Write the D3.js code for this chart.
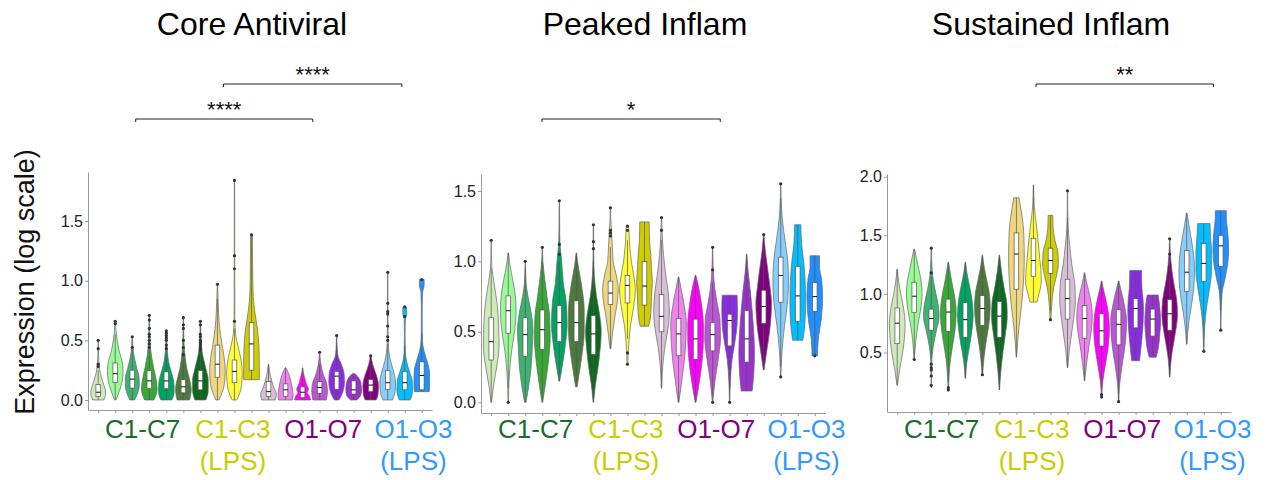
<!DOCTYPE html>
<html lang="en">
<head>
<meta charset="utf-8">
<title>Expression violins</title>
<script src="https://d3js.org/d3.v7.min.js"></script>
<style>
  body { margin: 0; background: #fff; }
  svg { display: block; font-family: "Liberation Sans", Arial, sans-serif; }
</style>
</head>
<body>
<div id="container"></div>
<script>
// ---- data ----
const categories = ["C1","C2","C3","C4","C5","C6","C7","C1 LPS","C2 LPS","C3 LPS",
                    "O1","O2","O3","O4","O5","O6","O7","O1 LPS","O2 LPS","O3 LPS"];
const groups = [
    {label: ["C1-C7"], first: 0, last: 6},
    {label: ["C1-C3", "(LPS)"], first: 7, last: 9},
    {label: ["O1-O7"], first: 10, last: 16},
    {label: ["O1-O3", "(LPS)"], first: 17, last: 19}
];
const panelTitles = ["Core Antiviral", "Peaked Inflam", "Sustained Inflam"];
const yLabel = "Expression (log scale)";

const coreTicks = [0, 0.5, 1.0, 1.5];
const peakTicks = [0, 0.5, 1.0, 1.5];
const sustTicks = [0.5, 1.0, 1.5, 2.0];

// violin outlines: [value, relative half width]
const coreShapes = [
    [[0,0.7],[0.06,0.95],[0.12,0.75],[0.19,0.4],[0.25,0.2],[0.31,0.1],[0.38,0.05],[0.44,0.03],[0.5,0.02]],
    [[0,0.1],[0.08,0.55],[0.16,0.9],[0.25,1.0],[0.33,0.85],[0.41,0.5],[0.5,0.25],[0.58,0.1],[0.66,0.04]],
    [[0,0.3],[0.07,0.75],[0.13,0.9],[0.2,0.85],[0.26,0.6],[0.33,0.35],[0.4,0.15],[0.46,0.07],[0.53,0.03]],
    [[0,0.6],[0.09,1.0],[0.18,0.85],[0.27,0.55],[0.36,0.3],[0.44,0.15],[0.53,0.08],[0.62,0.05],[0.71,0.03]],
    [[0,0.7],[0.07,1.0],[0.15,0.95],[0.22,0.7],[0.29,0.4],[0.36,0.2],[0.44,0.1],[0.51,0.05],[0.58,0.03]],
    [[0,0.8],[0.09,1.0],[0.17,0.8],[0.26,0.45],[0.35,0.25],[0.43,0.12],[0.52,0.06],[0.6,0.04],[0.69,0.02]],
    [[0,0.7],[0.08,1.0],[0.17,1.0],[0.25,0.75],[0.33,0.45],[0.41,0.2],[0.5,0.1],[0.58,0.05],[0.66,0.03]],
    [[0,0.2],[0.12,0.85],[0.24,1.0],[0.36,0.85],[0.48,0.55],[0.6,0.3],[0.73,0.15],[0.85,0.08],[0.97,0.02]],
    [[0,0.3],[0.1,0.85],[0.22,1.0],[0.35,0.8],[0.45,0.45],[0.55,0.15],[0.7,0.05],[1.2,0.03],[1.84,0.02]],
    [[0.17,1.0],[0.3,1.0],[0.45,0.95],[0.6,0.75],[0.75,0.4],[0.9,0.2],[1.1,0.15],[1.3,0.12],[1.39,0.12]],
    [[0,0.85],[0.05,1.0],[0.1,0.7],[0.15,0.45],[0.2,0.25],[0.25,0.12],[0.3,0.02]],
    [[0,0.9],[0.05,0.95],[0.1,0.85],[0.15,0.7],[0.2,0.5],[0.25,0.2],[0.27,0.05]],
    [[0,1.0],[0.03,0.9],[0.06,0.6],[0.09,0.75],[0.13,0.5],[0.18,0.3],[0.23,0.1],[0.27,0.02]],
    [[0,0.85],[0.07,1.0],[0.14,0.9],[0.2,0.55],[0.27,0.25],[0.33,0.1],[0.4,0.02]],
    [[0,0.3],[0.07,0.8],[0.15,1.0],[0.22,0.95],[0.3,0.6],[0.36,0.2],[0.42,0.08],[0.48,0.05],[0.54,0.03]],
    [[0,0.4],[0.04,0.9],[0.08,1.0],[0.13,0.95],[0.18,0.7],[0.22,0.2]],
    [[0,0.7],[0.05,0.95],[0.12,1.0],[0.18,0.85],[0.24,0.55],[0.3,0.25],[0.37,0.05]],
    [[0,0.6],[0.07,0.95],[0.15,1.0],[0.25,0.7],[0.33,0.35],[0.42,0.12],[0.55,0.05],[0.8,0.03],[1.07,0.02]],
    [[0,0.7],[0.08,1.0],[0.16,0.95],[0.24,0.6],[0.32,0.25],[0.4,0.08],[0.55,0.04],[0.68,0.08],[0.72,0.25],[0.76,0.25],[0.78,0.2]],
    [[0.07,0.95],[0.15,1.0],[0.25,0.95],[0.33,0.65],[0.42,0.25],[0.5,0.08],[0.7,0.05],[0.9,0.1],[0.96,0.3],[1.01,0.3]]
];
// [whisker low, q1, median, q3, whisker high]
const coreStats = [
    [0,0.03,0.065,0.13,0.25],[0,0.145,0.22,0.31,0.55],[0,0.10,0.175,0.25,0.42],[0,0.095,0.16,0.245,0.42],
    [0,0.095,0.16,0.235,0.41],[0,0.06,0.11,0.17,0.33],[0,0.085,0.16,0.245,0.40],[0,0.19,0.30,0.46,0.85],
    [0,0.145,0.24,0.335,0.6],[0.17,0.25,0.47,0.65,1.38],[0,0.03,0.07,0.155,0.30],[0,0.03,0.085,0.135,0.27],
    [0,0.02,0.065,0.11,0.27],[0,0.055,0.105,0.155,0.30],[0,0.09,0.20,0.24,0.46],[0,0.05,0.085,0.16,0.22],
    [0,0.07,0.125,0.17,0.30],[0,0.09,0.145,0.245,0.47],[0,0.085,0.145,0.24,0.46],[0.07,0.085,0.205,0.32,0.55]
];
const coreOutliers = [
    [0.28,0.30,0.43,0.50],[0.64,0.66],[0.44,0.53],[0.44,0.47,0.50,0.53,0.55,0.60,0.67,0.71],
    [0.43,0.46,0.50,0.52,0.54,0.56,0.58],[0.38,0.44,0.50,0.60,0.63,0.69],[0.42,0.44,0.46,0.48,0.50,0.53,0.55,0.63,0.66],[0.97],
    [0.66,1.10,1.21,1.84],[1.385],[],[],
    [],[0.40],[0.54],[],
    [0.37],[0.50,0.53,0.62,0.72,0.74,0.81,1.07],[0.70,0.78],[1.01]
];

const peakShapes = [
    [[0,0.05],[0.12,0.3],[0.25,0.7],[0.4,1.0],[0.55,0.95],[0.7,0.75],[0.85,0.35],[0.95,0.1],[1.05,0.03],[1.15,0.02]],
    [[0,0.03],[0.2,0.15],[0.35,0.4],[0.5,0.8],[0.65,1.0],[0.8,0.8],[0.92,0.4],[1.0,0.15],[1.06,0.03]],
    [[0,0.1],[0.1,0.4],[0.25,0.75],[0.4,0.9],[0.5,1.0],[0.62,0.8],[0.75,0.35],[0.85,0.1],[1.0,0.02]],
    [[0,0.05],[0.15,0.45],[0.3,0.8],[0.45,1.0],[0.6,0.95],[0.75,0.6],[0.88,0.3],[1.0,0.08],[1.1,0.02]],
    [[0.15,0.05],[0.25,0.35],[0.4,0.75],[0.55,1.0],[0.7,0.9],[0.85,0.5],[1.0,0.3],[1.1,0.12],[1.2,0.05],[1.43,0.02]],
    [[0.11,0.1],[0.2,0.35],[0.35,0.75],[0.5,1.0],[0.65,1.0],[0.8,0.75],[0.9,0.45],[1.0,0.15],[1.06,0.03]],
    [[0,0.03],[0.12,0.25],[0.25,0.6],[0.4,0.9],[0.5,1.0],[0.62,0.8],[0.75,0.4],[0.9,0.12],[1.05,0.04],[1.26,0.02]],
    [[0.38,0.05],[0.5,0.3],[0.62,0.6],[0.72,0.9],[0.8,1.0],[0.9,0.75],[1.0,0.35],[1.1,0.25],[1.2,0.15],[1.3,0.05],[1.39,0.02]],
    [[0.27,0.05],[0.4,0.15],[0.55,0.4],[0.68,0.8],[0.8,1.0],[0.9,0.8],[1.0,0.5],[1.1,0.3],[1.2,0.2],[1.25,0.15]],
    [[0.54,0.55],[0.62,0.8],[0.75,0.9],[0.85,1.0],[0.95,0.9],[1.05,0.8],[1.15,0.65],[1.28,0.6]],
    [[0.1,0.03],[0.25,0.15],[0.4,0.45],[0.55,0.9],[0.65,1.0],[0.78,0.85],[0.9,0.55],[1.05,0.25],[1.2,0.08],[1.31,0.02]],
    [[0,0.05],[0.15,0.4],[0.3,0.75],[0.45,0.95],[0.55,1.0],[0.68,0.75],[0.8,0.35],[0.89,0.03]],
    [[0,0.05],[0.15,0.5],[0.3,0.85],[0.45,1.0],[0.55,1.0],[0.68,0.8],[0.8,0.45],[0.9,0.05]],
    [[0,0.03],[0.15,0.3],[0.3,0.7],[0.45,1.0],[0.58,0.95],[0.7,0.6],[0.8,0.3],[0.95,0.08],[1.1,0.02]],
    [[0,0.03],[0.15,0.1],[0.3,0.3],[0.42,0.65],[0.55,0.95],[0.65,1.0],[0.76,0.95]],
    [[0.08,0.7],[0.2,0.9],[0.35,1.0],[0.5,0.9],[0.65,0.7],[0.8,0.45],[0.92,0.2],[1.05,0.03]],
    [[0.23,0.05],[0.35,0.35],[0.5,0.75],[0.62,0.95],[0.7,1.0],[0.82,0.8],[0.95,0.5],[1.08,0.2],[1.19,0.03]],
    [[0.18,0.02],[0.35,0.15],[0.55,0.5],[0.7,0.85],[0.85,1.0],[1.0,0.9],[1.15,0.55],[1.3,0.2],[1.45,0.05],[1.55,0.02]],
    [[0.44,0.65],[0.55,0.9],[0.7,1.0],[0.85,0.95],[1.0,0.75],[1.12,0.5],[1.26,0.4]],
    [[0.33,0.35],[0.45,0.45],[0.6,0.85],[0.75,1.0],[0.88,0.85],[0.96,0.6],[1.04,0.6]]
];
const peakStats = [
    [0,0.30,0.43,0.60,0.95],[0.1,0.49,0.65,0.755,1.06],[0,0.325,0.48,0.60,0.95],[0,0.375,0.515,0.655,1.0],
    [0.15,0.43,0.565,0.685,1.0],[0.11,0.43,0.565,0.72,1.06],[0,0.34,0.485,0.615,1.0],[0.38,0.695,0.775,0.86,1.1],
    [0.45,0.705,0.83,0.9,1.15],[0.54,0.69,0.825,1.0,1.28],[0.1,0.5,0.61,0.765,1.15],[0,0.33,0.485,0.595,0.89],
    [0,0.305,0.45,0.59,0.9],[0.05,0.365,0.48,0.565,0.85],[0.1,0.4,0.58,0.625,0.76],[0.08,0.285,0.45,0.65,1.05],
    [0.23,0.56,0.68,0.795,1.1],[0.25,0.71,0.9,1.03,1.45],[0.44,0.575,0.755,0.965,1.26],[0.33,0.645,0.75,0.85,1.04]
];
const peakOutliers = [
    [1.15],[0],[1.0],[1.1],
    [1.05,1.12,1.43],[],[1.09,1.14,1.26],[1.18,1.2,1.22,1.38],
    [0.27,0.35,1.22,1.25],[],[1.22,1.31],[],
    [],[0,0.94,1.1],[0],[],
    [1.19],[0.18,1.55],[],[0.33]
];

const sustShapes = [
    [[0.22,0.03],[0.35,0.3],[0.5,0.7],[0.65,0.95],[0.75,1.0],[0.88,0.8],[1.0,0.45],[1.1,0.2],[1.21,0.03]],
    [[0.44,0.03],[0.6,0.2],[0.75,0.5],[0.88,0.85],[1.0,1.0],[1.12,0.85],[1.22,0.55],[1.3,0.3],[1.38,0.05]],
    [[0.2,0.02],[0.4,0.05],[0.55,0.25],[0.7,0.7],[0.8,1.0],[0.9,0.9],[1.0,0.6],[1.1,0.3],[1.2,0.12],[1.39,0.02]],
    [[0.18,0.02],[0.3,0.1],[0.45,0.3],[0.6,0.65],[0.75,0.95],[0.85,1.0],[0.98,0.8],[1.1,0.45],[1.2,0.2],[1.27,0.03]],
    [[0.28,0.03],[0.42,0.2],[0.58,0.6],[0.72,0.9],[0.82,1.0],[0.95,0.85],[1.08,0.5],[1.18,0.2],[1.27,0.03]],
    [[0.3,0.03],[0.45,0.2],[0.6,0.5],[0.75,0.85],[0.88,1.0],[1.0,0.9],[1.12,0.55],[1.22,0.25],[1.33,0.03]],
    [[0.18,0.02],[0.35,0.2],[0.5,0.45],[0.65,0.75],[0.8,1.0],[0.92,0.95],[1.05,0.6],[1.2,0.25],[1.33,0.03]],
    [[0.46,0.03],[0.7,0.3],[0.9,0.65],[1.1,0.9],[1.3,1.0],[1.5,0.95],[1.65,0.75],[1.75,0.5],[1.82,0.35]],
    [[0.93,0.45],[1.0,0.7],[1.1,1.0],[1.2,0.95],[1.3,0.8],[1.45,0.6],[1.6,0.35],[1.75,0.1],[1.93,0.02]],
    [[0.78,0.05],[0.9,0.15],[1.05,0.4],[1.15,0.75],[1.25,1.0],[1.35,0.95],[1.45,0.6],[1.55,0.35],[1.67,0.3]],
    [[0.37,0.03],[0.5,0.2],[0.65,0.5],[0.8,0.8],[0.95,1.0],[1.1,0.9],[1.25,0.55],[1.4,0.3],[1.55,0.1],[1.7,0.04],[1.88,0.02]],
    [[0.26,0.03],[0.4,0.25],[0.55,0.55],[0.68,0.85],[0.8,1.0],[0.92,0.85],[1.02,0.55],[1.1,0.25],[1.18,0.03]],
    [[0.11,0.02],[0.25,0.15],[0.4,0.5],[0.55,0.85],[0.7,1.0],[0.82,0.9],[0.95,0.55],[1.05,0.2],[1.11,0.03]],
    [[0.08,0.02],[0.2,0.1],[0.35,0.35],[0.5,0.7],[0.65,0.95],[0.78,1.0],[0.9,0.75],[1.02,0.35],[1.11,0.03]],
    [[0.43,0.5],[0.55,0.7],[0.7,0.9],[0.85,1.0],[0.95,0.95],[1.05,0.8],[1.2,0.75]],
    [[0.46,0.45],[0.55,0.75],[0.65,0.9],[0.75,1.0],[0.85,0.95],[0.92,0.85],[0.99,0.7]],
    [[0.29,0.03],[0.45,0.2],[0.6,0.55],[0.72,0.85],[0.82,1.0],[0.95,0.9],[1.1,0.5],[1.25,0.2],[1.35,0.08],[1.47,0.02]],
    [[0.57,0.03],[0.75,0.25],[0.9,0.6],[1.05,0.9],[1.2,1.0],[1.35,0.85],[1.5,0.5],[1.6,0.25],[1.69,0.03]],
    [[0.51,0.02],[0.7,0.1],[0.9,0.4],[1.05,0.75],[1.2,1.0],[1.35,1.0],[1.5,0.85],[1.6,0.8]],
    [[0.69,0.02],[0.85,0.05],[1.0,0.15],[1.15,0.6],[1.3,0.95],[1.4,1.0],[1.55,0.85],[1.65,0.7],[1.71,0.7]]
];
const sustStats = [
    [0.22,0.575,0.75,0.88,1.21],[0.44,0.84,0.98,1.1,1.38],[0.45,0.69,0.79,0.87,1.15],[0.25,0.68,0.845,0.955,1.27],
    [0.28,0.63,0.78,0.925,1.27],[0.3,0.73,0.875,0.985,1.33],[0.18,0.63,0.81,0.935,1.33],[0.46,1.04,1.34,1.52,1.82],
    [0.93,1.15,1.285,1.475,1.93],[0.85,1.175,1.285,1.39,1.67],[0.37,0.785,0.96,1.125,1.65],[0.26,0.62,0.79,0.9,1.18],
    [0.2,0.555,0.685,0.83,1.11],[0.08,0.565,0.74,0.865,1.11],[0.43,0.71,0.875,0.96,1.2],[0.46,0.64,0.785,0.87,0.99],
    [0.29,0.69,0.83,0.95,1.3],[0.57,1.02,1.185,1.37,1.69],[0.55,1.105,1.26,1.43,1.6],[0.85,1.235,1.41,1.5,1.71]
];
const sustOutliers = [
    [],[0.44],[0.22,0.30,0.35,0.37,0.40,1.18,1.39],[0.18,0.20],
    [],[0.31],[],[],
    [],[0.78],[1.88],[],
    [0.12,0.14],[0.08],[],[],
    [1.34,1.47],[],[0.51],[0.69]
];

// significance brackets, ends given in category-index units
const coreBrackets = [{from: 2.2, to: 12.6, label: "****", row: 0}, {from: 7.36, to: 17.83, label: "****", row: 1}];
const peakBrackets = [{from: 2.98, to: 13.45, label: "*", row: 0}];
const sustBrackets = [{from: 8.15, to: 18.57, label: "**", row: 1}];

// ---- styling ----
const violinColors = ["#cfeab8","#98fb98","#3cb371","#36a836","#00a461","#4b7a3c","#0c6a20",
                      "#eed77e","#ffff33","#cdcd00",
                      "#d8bfd8","#ee82ee","#ff00ff","#ba55d3","#8a2be2","#9932cc","#800080",
                      "#87cefa","#00bfff","#1e90ff"];
const groupColors = ["#1a6e2c", "#cccc00", "#800080", "#3399ff"];

const W = 1266, H = 480;
const panels = [
    {title: panelTitles[0], left: 88, right: 432, top: 172, bottom: 410, domain: [-0.084, 1.911], ticks: coreTicks,
     shapes: coreShapes, stats: coreStats, outliers: coreOutliers, brackets: coreBrackets},
    {title: panelTitles[1], left: 481, right: 825, top: 174, bottom: 413, domain: [-0.076, 1.62], ticks: peakTicks,
     shapes: peakShapes, stats: peakStats, outliers: peakOutliers, brackets: peakBrackets},
    {title: panelTitles[2], left: 887, right: 1231, top: 174, bottom: 412, domain: [-0.008, 2.023], ticks: sustTicks,
     shapes: sustShapes, stats: sustStats, outliers: sustOutliers, brackets: sustBrackets}
];
const bracketRowY = [119, 84];

const svg = d3.select("#container").append("svg")
    .attr("width", W)
    .attr("height", H);

svg.append("text")
    .attr("transform", "translate(34,282) rotate(-90)")
    .attr("text-anchor", "middle")
    .attr("font-size", 27)
    .attr("fill", "#111")
    .text(yLabel);

panels.forEach(p => {
    const g = svg.append("g");
    const x = d3.scalePoint().domain(categories).range([p.left, p.right]).padding(0.6);
    const y = d3.scaleLinear().domain(p.domain).range([p.bottom, p.top]);
    const step = x.step();
    const xAt = i => x(categories[0]) + i * step;
    const hw = step * 0.46;
    const bw = 2.3;

    // title
    g.append("text")
        .attr("x", (p.left + p.right) / 2 - 8)
        .attr("y", 35)
        .attr("text-anchor", "middle")
        .attr("font-size", 32)
        .attr("fill", "#000")
        .text(p.title);

    // axes
    const yAxis = g.append("g")
        .attr("transform", `translate(${p.left},0)`)
        .call(d3.axisLeft(y).tickValues(p.ticks).tickFormat(d3.format(".1f")).tickSize(3).tickPadding(2).tickSizeOuter(0));
    yAxis.select(".domain").attr("stroke", "#999");
    yAxis.selectAll(".tick line").attr("stroke", "#999");
    yAxis.selectAll(".tick text").attr("font-size", 16).attr("fill", "#222")
        .attr("font-family", "'Liberation Sans', Arial, sans-serif");

    const xAxis = g.append("g")
        .attr("transform", `translate(0,${p.bottom})`)
        .call(d3.axisBottom(x).tickSize(3).tickFormat("").tickSizeOuter(0));
    xAxis.select(".domain").attr("stroke", "#999");
    xAxis.selectAll(".tick line").attr("stroke", "#999");

    // violins
    categories.forEach((c, i) => {
        const cx = x(c);
        const area = d3.area()
            .curve(d3.curveMonotoneY)
            .y(d => y(d[0]))
            .x0(d => cx - d[1] * hw)
            .x1(d => cx + d[1] * hw);
        g.append("path")
            .attr("d", area(p.shapes[i]))
            .attr("fill", violinColors[i])
            .attr("stroke", "#666")
            .attr("stroke-width", 0.7);

        const [wlo, q1, med, q3, whi] = p.stats[i];
        g.append("line")
            .attr("x1", cx).attr("x2", cx)
            .attr("y1", y(wlo)).attr("y2", y(whi))
            .attr("stroke", "#555").attr("stroke-width", 0.7);
        g.append("rect")
            .attr("x", cx - bw).attr("width", bw * 2)
            .attr("y", y(q3)).attr("height", y(q1) - y(q3))
            .attr("fill", "#fff")
            .attr("stroke", "#555").attr("stroke-width", 0.7);
        g.append("line")
            .attr("x1", cx - bw).attr("x2", cx + bw)
            .attr("y1", y(med)).attr("y2", y(med))
            .attr("stroke", "#111").attr("stroke-width", 1);

        g.selectAll(null)
            .data(p.outliers[i])
            .enter()
            .append("circle")
            .attr("cx", cx)
            .attr("cy", d => y(d))
            .attr("r", 1.6)
            .attr("fill", "#333");
    });

    // group labels underneath
    const mid = (categories.length - 1) / 2;
    groups.forEach((grp, gi) => {
        const centre = (grp.first + grp.last) / 2;
        const lx = xAt(mid + (centre - mid) * 1.06);
        grp.label.forEach((line, li) => {
            g.append("text")
                .attr("x", lx)
                .attr("y", 438 + li * 32)
                .attr("text-anchor", "middle")
                .attr("font-size", 26)
                .attr("fill", groupColors[gi])
                .text(line);
        });
    });

    // significance brackets
    p.brackets.forEach(b => {
        const by = bracketRowY[b.row];
        const x1 = xAt(b.from), x2 = xAt(b.to);
        g.append("path")
            .attr("d", `M${x1},${by + 3}V${by}H${x2}V${by + 3}`)
            .attr("fill", "none")
            .attr("stroke", "#222")
            .attr("stroke-width", 1);
        g.append("text")
            .attr("x", (x1 + x2) / 2)
            .attr("y", by - 2)
            .attr("text-anchor", "middle")
            .attr("font-size", 22)
            .attr("fill", "#111")
            .text(b.label);
    });
});
</script>
</body>
</html>
